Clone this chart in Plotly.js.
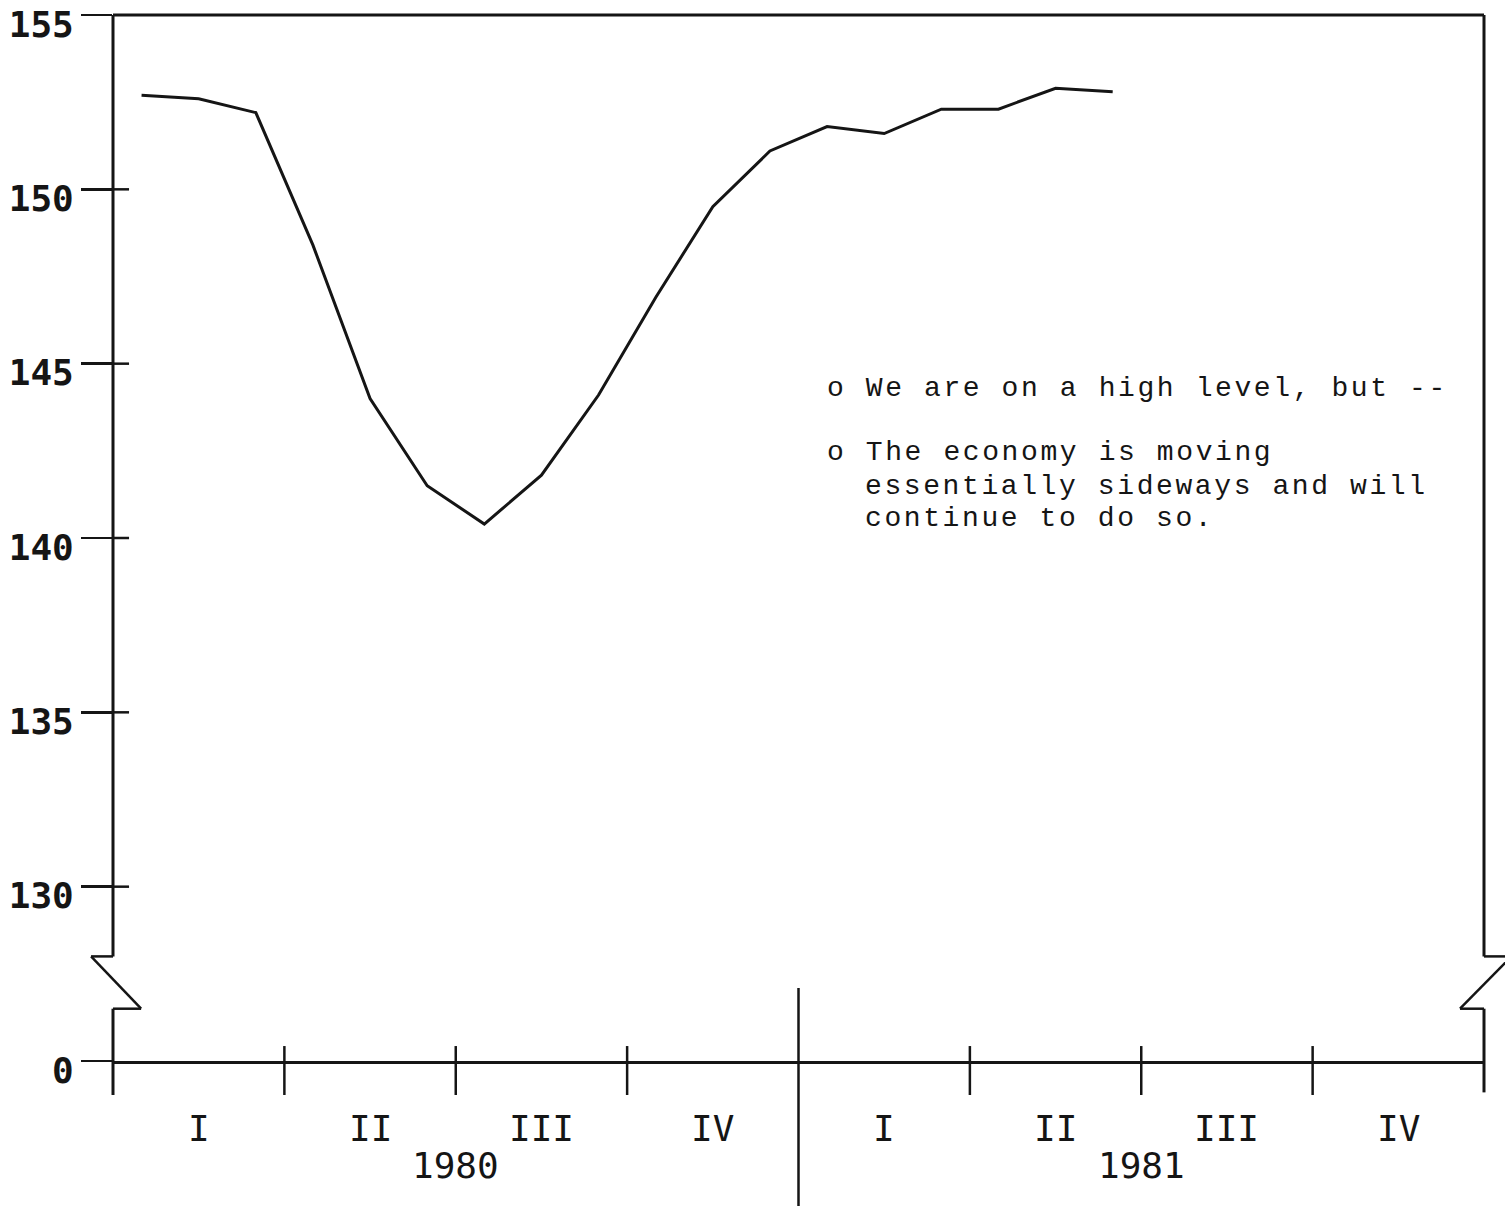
<!DOCTYPE html>
<html>
<head>
<meta charset="utf-8">
<script src="https://cdn.plot.ly/plotly-3.0.1.min.js"></script>
<style>
  html, body { margin: 0; padding: 0; background: #ffffff; }
  #chart { width: 1505px; height: 1206px; }
</style>
</head>
<body>
<div id="chart"></div>
<script>
// ---- data (monthly, Jan 1980 .. Jun 1981) ----
const monthPositions = [0.5, 1.5, 2.5, 3.5, 4.5, 5.5, 6.5, 7.5, 8.5, 9.5, 10.5, 11.5,
                        12.5, 13.5, 14.5, 15.5, 16.5, 17.5];
const indexValues = [152.7, 152.6, 152.2, 148.4, 144.0, 141.5, 140.4, 141.8, 144.1, 146.9, 149.5, 151.1,
                     151.8, 151.6, 152.3, 152.3, 152.9, 152.8];

// ---- axis labels ----
const yTickVals = [125, 130, 135, 140, 145, 150, 155];
const yTickText = ['0', '130', '135', '140', '145', '150', '155'];
const quarterCenters = [1.5, 4.5, 7.5, 10.5, 13.5, 16.5, 19.5, 22.5];
const quarterLabels = ['I', 'II', 'III', 'IV', 'I', 'II', 'III', 'IV'];
const quarterBounds = [3, 6, 9, 15, 18, 21];
const yearCenters = [6, 18];
const yearLabels = ['1980', '1981'];
const yearDivider = 12;
const noteLines = [
  {text: 'o We are on a high level, but --', x: 12.46, y: 144.30},
  {text: 'o The economy is moving', x: 12.46, y: 142.44},
  {text: 'essentially sideways and will', x: 13.13, y: 141.49},
  {text: 'continue to do so.', x: 13.13, y: 140.55}
];
const breakLow = 126.5, breakHigh = 128;

const ink = '#151515';
const plotFont = 'DejaVu Sans Mono, monospace';

const shapes = [];
// top border
shapes.push({type: 'line', xref: 'paper', yref: 'paper', x0: 0, x1: 1, y0: 1, y1: 1,
             line: {color: ink, width: 3}});
// left border with break
shapes.push({type: 'line', xref: 'paper', yref: 'y', x0: 0, x1: 0, y0: breakHigh, y1: 155,
             line: {color: ink, width: 3}});
shapes.push({type: 'line', xref: 'paper', yref: 'y', x0: 0, x1: -0.016, y0: breakHigh, y1: breakHigh,
             line: {color: ink, width: 2.5}});
shapes.push({type: 'line', xref: 'paper', yref: 'y', x0: -0.016, x1: 0.0205, y0: breakHigh, y1: breakLow,
             line: {color: ink, width: 2.5}});
shapes.push({type: 'line', xref: 'paper', yref: 'y', x0: 0.0205, x1: 0, y0: breakLow, y1: breakLow,
             line: {color: ink, width: 2.5}});
shapes.push({type: 'line', xref: 'paper', yref: 'y', x0: 0, x1: 0, y0: breakLow, y1: 125,
             line: {color: ink, width: 3}});
shapes.push({type: 'line', xref: 'paper', yref: 'paper', x0: 0, x1: 0, y0: 0, y1: -0.0325,
             line: {color: ink, width: 3}});
// right border with break
shapes.push({type: 'line', xref: 'paper', yref: 'y', x0: 1, x1: 1, y0: breakHigh, y1: 155,
             line: {color: ink, width: 3}});
shapes.push({type: 'line', xref: 'paper', yref: 'y', x0: 1, x1: 1.02, y0: breakHigh, y1: breakHigh,
             line: {color: ink, width: 2.5}});
shapes.push({type: 'line', xref: 'paper', yref: 'y', x0: 1.02, x1: 0.9825, y0: breakHigh, y1: breakLow,
             line: {color: ink, width: 2.5}});
shapes.push({type: 'line', xref: 'paper', yref: 'y', x0: 0.9825, x1: 1, y0: breakLow, y1: breakLow,
             line: {color: ink, width: 2.5}});
shapes.push({type: 'line', xref: 'paper', yref: 'y', x0: 1, x1: 1, y0: breakLow, y1: 125,
             line: {color: ink, width: 3}});
shapes.push({type: 'line', xref: 'paper', yref: 'paper', x0: 1, x1: 1, y0: 0, y1: -0.03,
             line: {color: ink, width: 3}});
// inner part of y ticks crossing the axis
[130, 135, 140, 145, 150].forEach(v => {
  shapes.push({type: 'line', xref: 'paper', yref: 'y', x0: 0, x1: 0.0117, y0: v, y1: v,
               line: {color: ink, width: 2.5}});
});
// quarter ticks on the x axis
quarterBounds.forEach(q => {
  shapes.push({type: 'line', xref: 'x', yref: 'paper', x0: q, x1: q, y0: 0.0143, y1: -0.0325,
               line: {color: ink, width: 2.5}});
});
// year divider
shapes.push({type: 'line', xref: 'x', yref: 'paper', x0: yearDivider, x1: yearDivider, y0: 0.0698, y1: -0.14,
             line: {color: ink, width: 2.5}});

const annotations = [];
quarterCenters.forEach((c, i) => {
  annotations.push({x: c, xref: 'x', y: -0.065, yref: 'paper', text: quarterLabels[i],
                    showarrow: false, xanchor: 'center', yanchor: 'middle',
                    font: {family: plotFont, size: 36, color: ink}});
});
yearCenters.forEach((c, i) => {
  annotations.push({x: c, xref: 'x', y: -0.1, yref: 'paper', text: yearLabels[i],
                    showarrow: false, xanchor: 'center', yanchor: 'middle',
                    font: {family: plotFont, size: 36, color: ink}});
});
noteLines.forEach(n => {
  annotations.push({x: n.x, xref: 'x', y: n.y, yref: 'y',
                    text: '<span style="letter-spacing:2.6px">' + n.text + '</span>',
                    showarrow: false, xanchor: 'left', yanchor: 'middle',
                    font: {family: 'Liberation Mono, Courier New, monospace', size: 28, color: ink}});
});

const data = [{
  x: monthPositions,
  y: indexValues,
  type: 'scatter',
  mode: 'lines',
  line: {color: ink, width: 3},
  hoverinfo: 'skip',
  showlegend: false
}];

const layout = {
  width: 1505,
  height: 1206,
  margin: {l: 113, r: 21, t: 15, b: 145, pad: 0},
  paper_bgcolor: '#ffffff',
  plot_bgcolor: '#ffffff',
  showlegend: false,
  xaxis: {
    range: [0, 24],
    showgrid: false, zeroline: false,
    showline: true, linecolor: ink, linewidth: 3,
    ticks: '', showticklabels: false,
    fixedrange: true
  },
  yaxis: {
    range: [125, 155],
    tickvals: yTickVals, ticktext: yTickText,
    ticks: 'outside', ticklen: 31, tickwidth: 2.5, tickcolor: ink,
    tickfont: {family: plotFont, size: 36, color: ink, weight: 'bold'},
    ticklabeloverflow: 'allow',
    ticklabelshift: 9,
    showgrid: false, zeroline: false, showline: false,
    fixedrange: true
  },
  shapes: shapes,
  annotations: annotations
};

Plotly.newPlot('chart', data, layout, {displayModeBar: false, staticPlot: true});
</script>
</body>
</html>
